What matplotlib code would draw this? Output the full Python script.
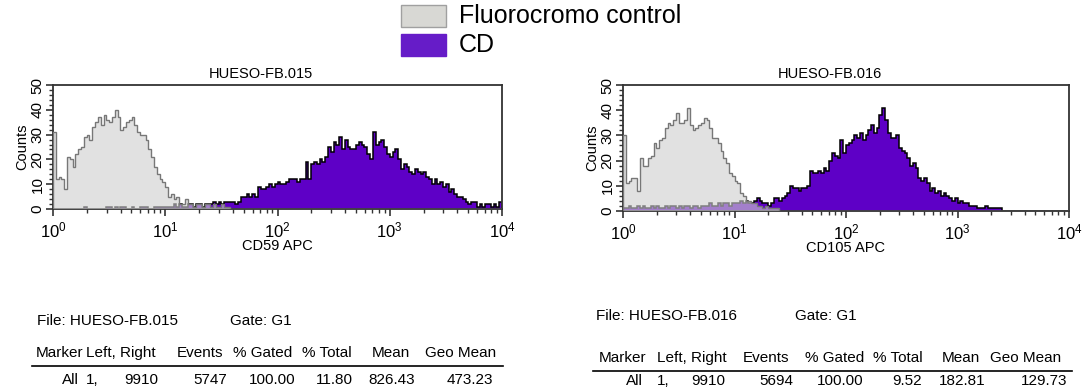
import numpy as np
import matplotlib
matplotlib.use("Agg")
import matplotlib.pyplot as plt
from matplotlib.patches import Rectangle
from matplotlib.ticker import MultipleLocator, LogLocator, NullFormatter

plt.rcParams['font.family'] = ['Liberation Sans', 'DejaVu Sans']
plt.rcParams['mathtext.fontset'] = 'custom'
plt.rcParams['mathtext.rm'] = 'Liberation Sans'

# histogram channels: 40 per decade, from 10^0 to 10^4
bins_per_decade = 40
edges = 10 ** (np.arange(161) / bins_per_decade)

# HUESO-FB.015 (CD59 APC)
ctrl_015 = [31, 12, 13, 12, 8, 21, 20, 17, 22, 24,
            25, 29, 30, 28, 33, 35, 37, 34, 38, 36,
            35, 37, 40, 37, 32, 33, 35, 36, 37, 34,
            31, 30, 30, 28, 24, 21, 17, 14, 12, 11,
            9, 5, 6, 4, 5, 2, 2, 4, 2,
            2, 1, 2, 2, 1, 2, 2, 1, 2, 1, 1, 2, 1, 1] + [0] * 97
cd_015 = [0, 0, 0, 0, 0, 0, 0, 0, 0, 0,
          0, 1, 0, 0, 0, 0, 0, 0, 0, 1,
          1, 0, 1, 0, 1, 1, 0, 0, 1, 0,
          0, 1, 1, 1, 0, 0, 1, 1, 1, 1,
          1, 1, 1, 2, 1, 2, 1, 1, 2, 2, 1, 2, 2, 1, 2,
          2, 2, 3, 2, 3, 2, 3, 3,
          3, 3, 2, 3,
          5, 5, 6, 5, 6, 5,
          9, 8,
          8, 9, 10, 9, 10, 11,
          10, 10, 11, 12, 12,
          12, 11, 12, 12, 19, 12,
          18, 19, 18, 20, 19, 21,
          25, 23, 27, 26, 29, 24, 28,
          25, 24, 24, 26, 27, 26, 25,
          22, 20, 31,
          26, 27, 28, 25,
          22, 21, 23, 24, 20,
          16,
          18, 17, 15,
          14, 16, 15, 14, 15, 13,
          12, 10, 12, 10, 11, 9, 10,
          7, 8, 6, 5, 5, 4,
          3, 2, 3, 3, 1,
          2, 1, 2, 2, 1, 2, 1, 3]

# HUESO-FB.016 (CD105 APC)
ctrl_016 = [30, 11, 12, 13, 13, 8, 21, 18, 18, 21,
            22, 27, 25, 28, 29, 33, 35, 34, 36, 39,
            35, 35, 36, 41, 34, 32, 33, 34, 35, 37,
            36, 33, 29, 29, 27, 24, 21, 19, 15, 14,
            12, 11, 7, 6, 4, 4, 3, 3, 2, 2,
            1, 2, 1, 1, 1, 1] + [0] * 104
cd_016 = [1, 1, 2, 1, 1, 2, 1, 2, 1, 1,
          2, 1, 2, 1, 1, 2, 1, 2, 2, 1,
          2, 1, 2, 2, 1, 2, 2, 1, 2, 2,
          2, 3, 2, 2, 3, 2, 3, 3, 2, 3,
          3, 3,
          4, 3, 4, 3, 3, 4, 5, 4, 3, 3, 2, 3,
          5, 5, 4, 5, 6, 7,
          10, 9, 9, 8, 9, 9, 10,
          16, 15,
          15, 16, 15, 17, 16,
          20, 23, 22, 21,
          28, 23, 26, 27, 28,
          30, 29, 31, 28, 30,
          32, 34, 31, 33,
          38, 41, 36,
          31, 29, 29, 30,
          25, 24, 23,
          21, 18, 19, 17,
          13, 12, 13, 11,
          8, 9, 7, 8, 6, 7, 6,
          5, 4, 5, 3, 4, 3, 3,
          2, 2, 2, 1, 1,
          1, 2, 1, 1, 1, 1, 1] + [0] * 24

titles = ["HUESO-FB.015", "HUESO-FB.016"]
xlabels = ["CD59 APC", "CD105 APC"]
legend_labels = ["Fluorocromo control", "CD"]

table_header = ["Marker", "Left, Right", "Events", "% Gated", "% Total", "Mean", "Geo Mean"]
# "Left, Right" column is split in two parts: "1," and "9910"
row_015 = ["All", "1,", "9910", "5747", "100.00", "11.80", "826.43", "473.23"]
row_016 = ["All", "1,", "9910", "5694", "100.00", "9.52", "182.81", "129.73"]

purple = '#5e00c6'
gray_fill = '#cfcfcf'
gray_edge = '#777777'

W, H = 1088, 387
fig = plt.figure(figsize=(W / 100, H / 100), dpi=100)


def px_axes(left, top, right, bottom):
    return fig.add_axes([left / W, 1 - bottom / H, (right - left) / W, (bottom - top) / H])


def draw_hist(ax, ctrl, cd, title, xlabel):
    ax.stairs(cd, edges, fill=True, color=purple, zorder=1)
    ax.stairs(cd, edges, color='black', linewidth=1.1, zorder=2)
    ax.stairs(ctrl, edges, fill=True, color=gray_fill, alpha=0.62, zorder=3)
    ax.stairs(ctrl, edges, color=gray_edge, linewidth=1.0, zorder=4)
    ax.set_xscale('log')
    ax.set_xlim(1, 1e4)
    ax.set_ylim(0, 50)
    ax.yaxis.set_major_locator(MultipleLocator(10))
    ax.yaxis.set_minor_locator(MultipleLocator(2))
    ax.xaxis.set_major_locator(LogLocator(base=10, numticks=10))
    ax.xaxis.set_minor_locator(LogLocator(base=10, subs=np.arange(2, 10), numticks=20))
    ax.xaxis.set_minor_formatter(NullFormatter())
    ax.tick_params(axis='both', which='major', direction='out', length=5, width=1.2,
                   color='#333333')
    ax.tick_params(axis='both', which='minor', direction='out', length=3, width=1.0,
                   color='#333333')
    ax.tick_params(axis='x', labelsize=12, pad=3)
    ax.tick_params(axis='y', labelsize=11, pad=1)
    for lab in ax.get_yticklabels():
        lab.set_rotation(90)
        lab.set_va('center')
    for sp in ax.spines.values():
        sp.set_linewidth(1.3)
        sp.set_color('#333333')
    ax.text(0.463, 1.03, title, transform=ax.transAxes, fontsize=10.5,
            ha='center', va='bottom')
    ax.set_xlabel(xlabel, fontsize=10.5, labelpad=-1)
    ax.set_ylabel("Counts", fontsize=10.5, labelpad=1)


ax1 = px_axes(53, 85, 502, 209)
draw_hist(ax1, ctrl_015, cd_015, titles[0], xlabels[0])
ax2 = px_axes(623, 85, 1069, 211)
draw_hist(ax2, ctrl_016, cd_016, titles[1], xlabels[1])

# legend
fig.patches.append(Rectangle((401 / W, 1 - 27 / H), 45 / W, 22 / H, transform=fig.transFigure,
                             facecolor='#d8d8d4', edgecolor='#a0a0a0', linewidth=1))
fig.patches.append(Rectangle((401 / W, 1 - 56 / H), 45 / W, 22 / H, transform=fig.transFigure,
                             facecolor='#661cc8', edgecolor='#661cc8', linewidth=1))
fig.text(459 / W, 1 - 16 / H, legend_labels[0], fontsize=18, va='center', ha='left')
fig.text(459 / W, 1 - 45 / H, legend_labels[1], fontsize=18, va='center', ha='left')

fs = 11


def draw_table(fname, x0, y_file, gate_x, y_head, y_line, head_x, line_x):
    fig.text(x0 / W, 1 - y_file / H, "File: " + fname, fontsize=fs, va='center')
    fig.text(gate_x / W, 1 - y_file / H, "Gate: G1", fontsize=fs, va='center')
    for lab, x in zip(table_header, head_x):
        fig.text(x / W, 1 - y_head / H, lab, fontsize=fs, va='center', ha='left')
    fig.add_artist(plt.Line2D([line_x[0] / W, line_x[1] / W], [1 - y_line / H, 1 - y_line / H],
                              transform=fig.transFigure, color='black', linewidth=1.2))


def draw_row(row, y_row, row_right, left_x):
    for i, (val, x) in enumerate(zip(row, row_right)):
        if i == 1:
            fig.text(left_x / W, 1 - y_row / H, val, fontsize=fs, va='center', ha='left')
        else:
            fig.text(x / W, 1 - y_row / H, val, fontsize=fs, va='center', ha='right')


draw_table("HUESO-FB.015", 37, 321, 230, 353, 366,
           [36, 86, 177, 233, 302, 372, 425], (32, 503))
draw_row(row_015, 380, [79, None, 158, 227, 296, 353, 415, 493], 86)

draw_table("HUESO-FB.016", 596, 316, 795, 358, 371,
           [599, 657, 743, 805, 873, 942, 990], (593, 1072))
draw_row(row_016, 381, [643, None, 725, 793, 864, 922, 985, 1067], 657)

fig.savefig("out.png", dpi=100)
